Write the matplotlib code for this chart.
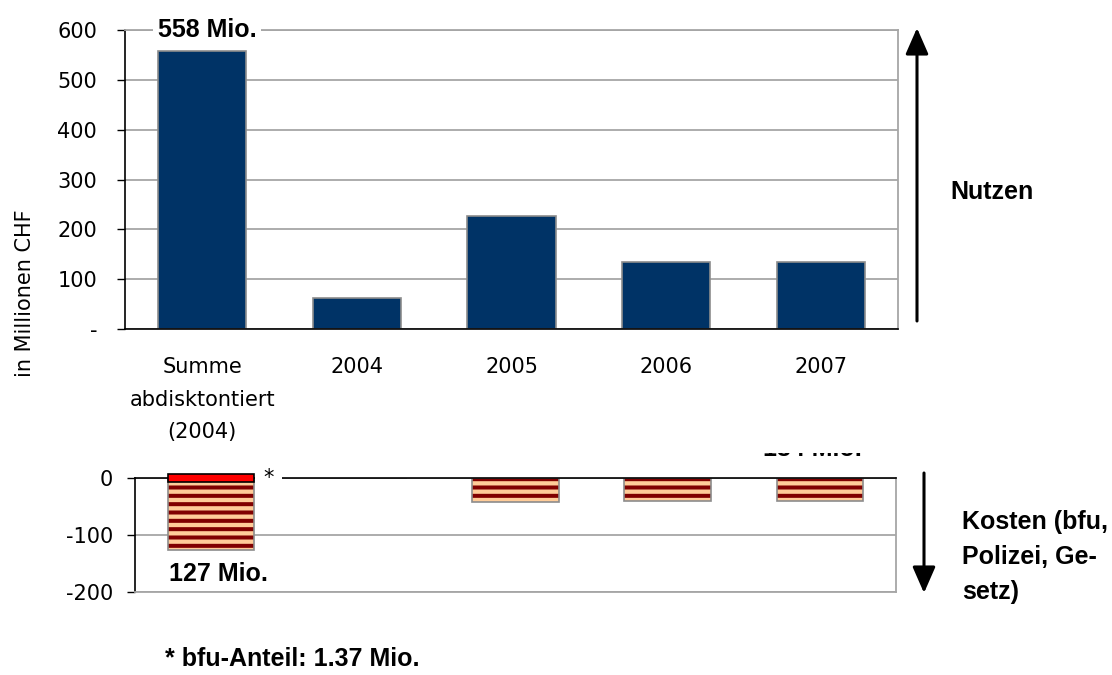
import matplotlib
matplotlib.use("Agg")
import matplotlib.pyplot as plt
from matplotlib.patches import Rectangle, FancyArrowPatch

plt.rcParams['font.family'] = ['DejaVu Sans']
plt.rcParams['axes.unicode_minus'] = False
plt.rcParams['hatch.linewidth'] = 2.9

# data
categories = ["Summe\nabdisktontiert\n(2004)", "2004", "2005", "2006", "2007"]
nutzen = [558, 63, 227, 134, 134]
kosten = [-127, 0, -42, -40, -40]
bfu_anteil = 1.37          # Mio., drawn exaggerated in the original
bfu_bar_top = 7            # red bar as it appears (from +7 down to -7)
bfu_bar_drawn = -14
top_ticks = [0, 100, 200, 300, 400, 500, 600]
top_ticklabels = ["-", "100", "200", "300", "400", "500", "600"]
bot_ticks = [-200, -100, 0]

navy = "#003366"
darkred = "#800000"
peach = "#FFCC99"
grid_grey = "#A6A6A6"
edge_grey = "#8C8C8C"

REG = 15      # regular text size
BOLD = dict(family='Liberation Sans', fontweight='bold', fontsize=18)

W, H = 1112, 675
fig = plt.figure(figsize=(W / 100, H / 100), dpi=100)

def fx(px):
    return px / W

def fy(py):
    return 1 - py / H

x = list(range(len(categories)))

# ---- top chart (Nutzen)
ax = fig.add_axes([fx(125), fy(329), fx(898 - 125), (329 - 30) / H])
ax.bar(x, nutzen, width=0.57, color=navy, edgecolor=edge_grey, linewidth=1.2, zorder=3)
ax.set_xlim(-0.5, len(categories) - 0.5)
ax.set_ylim(0, 600)
ax.set_yticks(top_ticks)
ax.set_yticklabels(top_ticklabels)
ax.set_xticks(x)
ax.set_xticklabels(categories, linespacing=1.8)
ax.tick_params(axis='x', length=0, pad=20, labelsize=REG)
ax.tick_params(axis='y', length=6, width=1, pad=14, labelsize=REG, direction='out')
for t in top_ticks:
    ax.axhline(t, color=grid_grey, linewidth=1.3, zorder=1)
for s in ['top', 'right']:
    ax.spines[s].set_color(grid_grey)
    ax.spines[s].set_linewidth(1.3)
for s in ['left', 'bottom']:
    ax.spines[s].set_color('black')
    ax.spines[s].set_linewidth(1.2)
ax.spines['bottom'].set_zorder(4)
ax.text(0.03, 600, f"{nutzen[0]} Mio.", ha='center', va='center', zorder=5,
        bbox=dict(facecolor='white', edgecolor='none', pad=3), **BOLD)

# ---- bottom chart (Kosten)
bx = fig.add_axes([fx(135), fy(592), fx(896 - 135), (592 - 478) / H])
bx.bar(x, kosten, width=0.57, color=peach, edgecolor=darkred, hatch='--',
       linewidth=0, zorder=3)
bx.bar(x, kosten, width=0.57, fill=False, edgecolor=edge_grey, linewidth=1.2, zorder=3)
bx.bar(x[0], bfu_bar_drawn, bottom=bfu_bar_top, width=0.57, color='#FF0000',
       edgecolor='black', linewidth=1.2, zorder=4, clip_on=False)
bx.set_xlim(-0.5, len(categories) - 0.5)
bx.set_ylim(-200, 0)
bx.set_yticks(bot_ticks)
bx.set_xticks([])
bx.tick_params(axis='y', length=6, width=1, pad=10, labelsize=REG, direction='out')
for t in bot_ticks:
    bx.axhline(t, color=grid_grey, linewidth=1.3, zorder=1)
bx.spines['top'].set_color('black')
bx.spines['top'].set_linewidth(1.2)
bx.spines['top'].set_zorder(3.5)
bx.spines['left'].set_color('black')
bx.spines['left'].set_linewidth(1.2)
for s in ['bottom', 'right']:
    bx.spines[s].set_color(grid_grey)
    bx.spines[s].set_linewidth(1.3)
bx.text(0.05, kosten[0] - 42, f"{-kosten[0]} Mio.", ha='center', va='center',
        zorder=5, **BOLD)
bx.text(0.375, 0, "*", ha='center', va='center', fontsize=REG, zorder=6,
        bbox=dict(facecolor='white', edgecolor='none', pad=6))

# partly hidden label above the 2007 bar
hidden = fig.text(fx(812), fy(456), "134 Mio.", ha='center', va='baseline', **BOLD)
hidden.set_clip_path(Rectangle((fx(700), fy(456)), fx(200), 3 / H,
                               transform=fig.transFigure))

# ---- axis label and side annotations
fig.text(fx(25), fy(293), "in Millionen CHF", rotation=90, ha='center', va='center',
         fontsize=REG)
fig.text(fx(950), fy(192), "Nutzen", ha='left', va='center', **BOLD)
fig.text(fx(962), fy(557), "Kosten (bfu,\nPolizei, Ge-\nsetz)", ha='left', va='center',
         linespacing=1.57, **BOLD)
fig.text(fx(165), fy(659), f"* bfu-Anteil: {bfu_anteil} Mio.", ha='left', va='center',
         **BOLD)

arrow = dict(arrowstyle='-|>,head_width=0.35,head_length=0.8', color='black', lw=2.2,
             shrinkA=0, shrinkB=0)
fig.add_artist(FancyArrowPatch((fx(917), fy(321)), (fx(917), fy(28)),
                               transform=fig.transFigure, mutation_scale=20, **arrow))
fig.add_artist(FancyArrowPatch((fx(924), fy(473)), (fx(924), fy(593)),
                               transform=fig.transFigure, mutation_scale=20, **arrow))

fig.savefig("out.png", dpi=100)
